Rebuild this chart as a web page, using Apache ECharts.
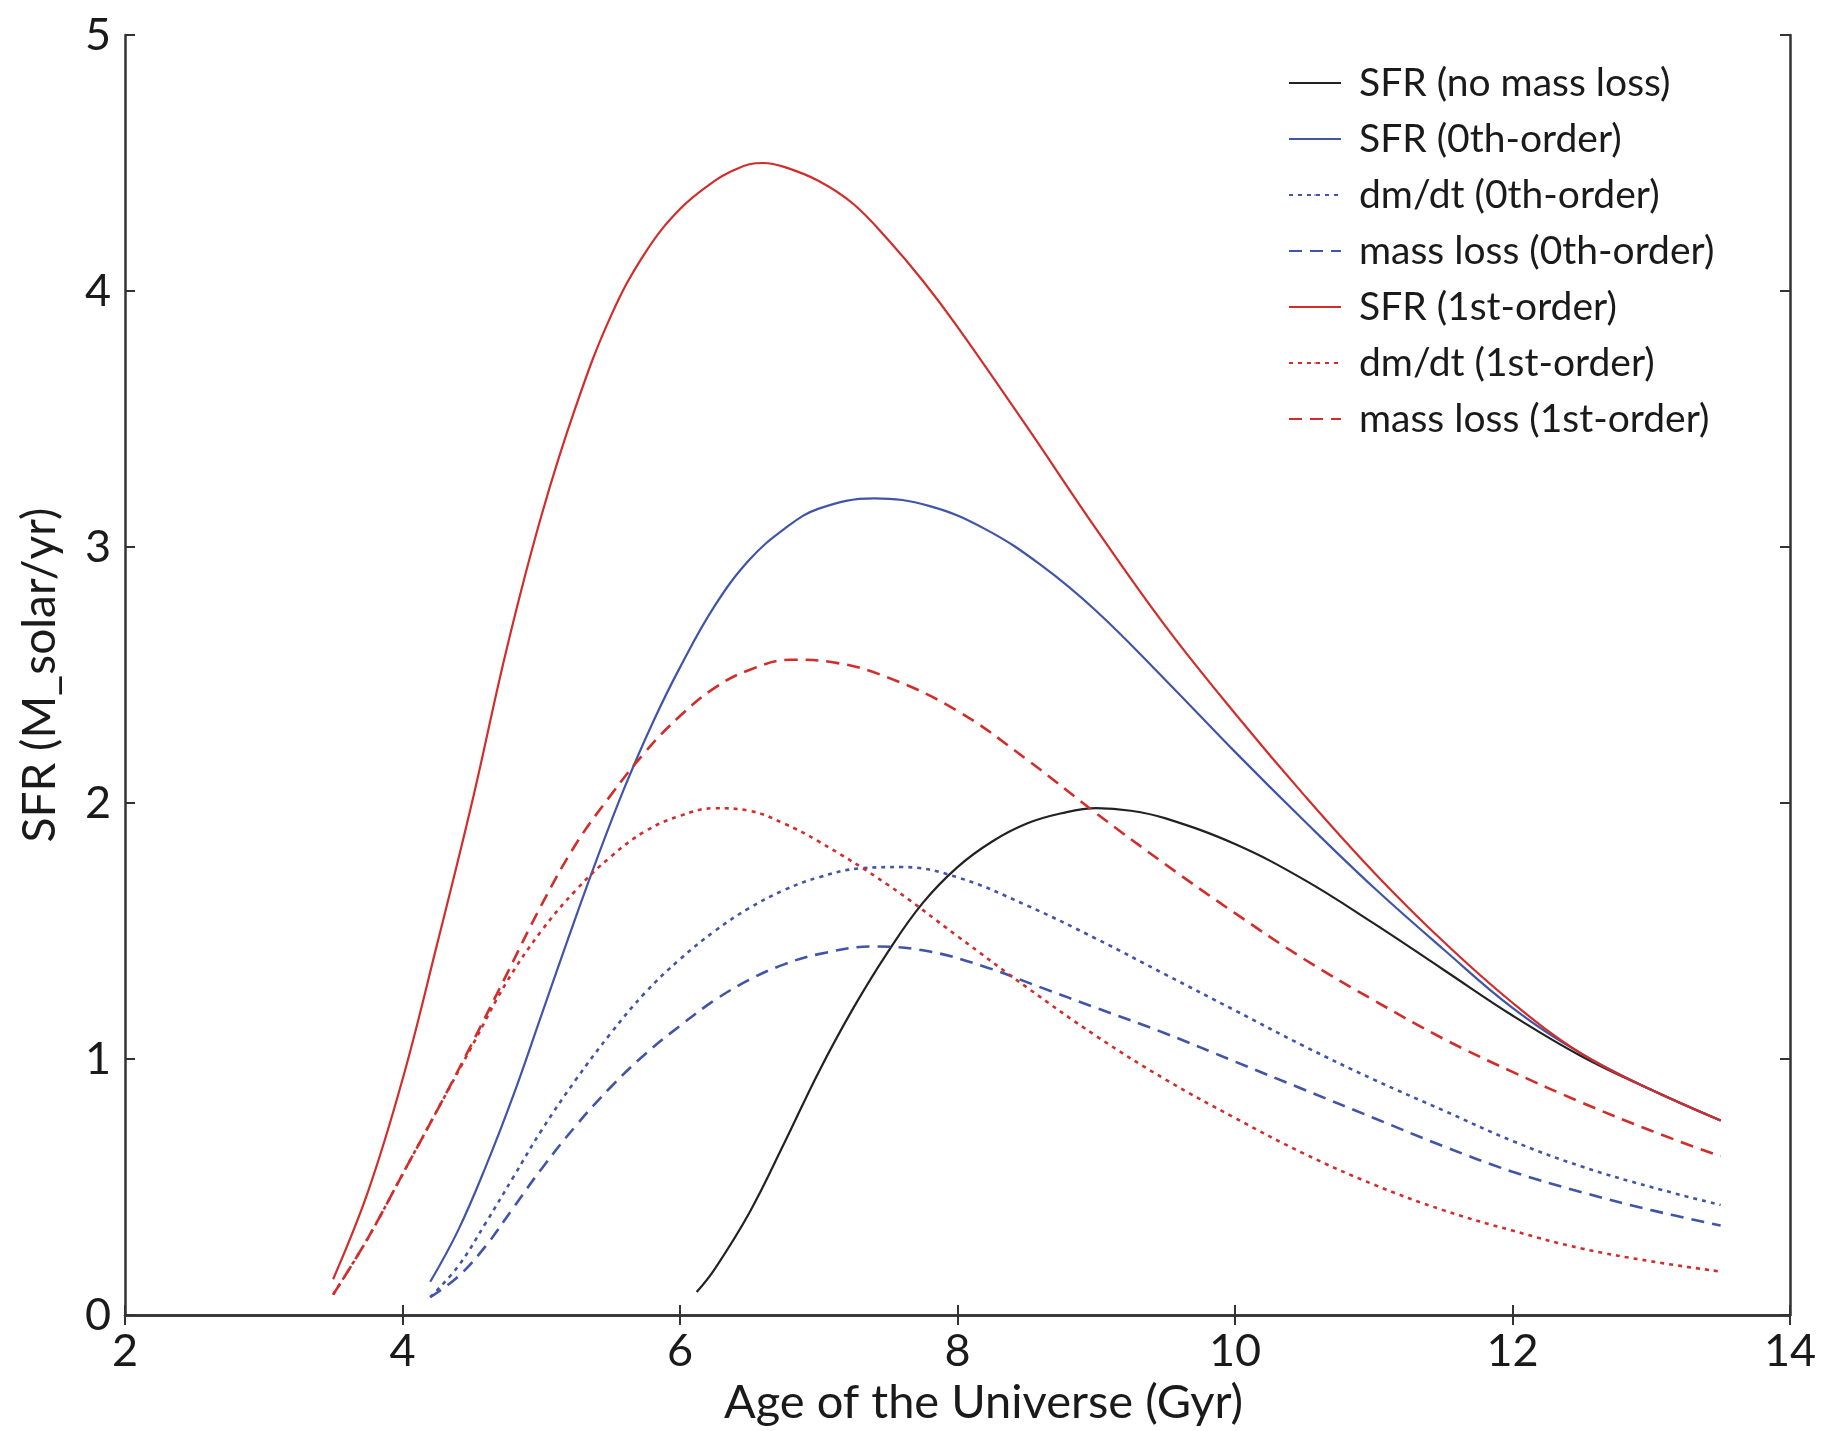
<!DOCTYPE html>
<html>
<head>
<meta charset="utf-8">
<script src="https://cdn.jsdelivr.net/npm/echarts@6/dist/echarts.min.js"></script>
<style>
html,body{margin:0;padding:0;background:#fff;}
#chart{width:1826px;height:1431px;}
</style>
</head>
<body>
<div id="chart"></div>
<script>
// ---- Data ----
const ageNoLoss = [6.12, 6.25, 6.5, 6.75, 7.0, 7.25, 7.5, 7.75, 8.0, 8.25, 8.5, 8.75, 9.0, 9.25, 9.5, 10.0, 10.5, 11.0, 11.5, 12.0, 12.5, 13.0, 13.5];
const sfrNoLoss = [0.09, 0.18, 0.40, 0.67, 0.95, 1.20, 1.42, 1.61, 1.75, 1.85, 1.92, 1.96, 1.98, 1.97, 1.94, 1.84, 1.70, 1.53, 1.35, 1.17, 1.01, 0.88, 0.76];

const age0th = [4.2, 4.4, 4.6, 4.8, 5.0, 5.2, 5.4, 5.6, 5.8, 6.0, 6.25, 6.5, 6.75, 7.0, 7.4, 7.8, 8.2, 8.6, 9.0, 9.5, 10.0, 10.5, 11.0, 11.5, 12.0, 12.5, 13.0, 13.5];
const sfr0th = [0.13, 0.33, 0.58, 0.86, 1.17, 1.48, 1.78, 2.06, 2.31, 2.53, 2.77, 2.95, 3.07, 3.15, 3.19, 3.16, 3.07, 2.93, 2.75, 2.48, 2.20, 1.93, 1.67, 1.43, 1.20, 1.02, 0.88, 0.76];

const ageDm0th = [4.2, 4.4, 4.6, 4.8, 5.0, 5.25, 5.5, 5.75, 6.0, 6.25, 6.5, 6.75, 7.0, 7.3, 7.6, 8.0, 8.5, 9.0, 9.5, 10.0, 10.5, 11.0, 11.5, 12.0, 12.5, 13.0, 13.5];
const dmdt0th  = [0.07, 0.19, 0.36, 0.54, 0.72, 0.92, 1.10, 1.26, 1.39, 1.50, 1.59, 1.66, 1.71, 1.745, 1.75, 1.71, 1.60, 1.47, 1.33, 1.19, 1.05, 0.92, 0.80, 0.68, 0.58, 0.50, 0.43];

const ageMl0th = [4.2, 4.4, 4.6, 4.8, 5.0, 5.25, 5.5, 5.75, 6.0, 6.25, 6.5, 6.75, 7.0, 7.4, 7.8, 8.2, 8.6, 9.0, 9.5, 10.0, 10.5, 11.0, 11.5, 12.0, 12.5, 13.0, 13.5];
const massLoss0th = [0.07, 0.15, 0.27, 0.42, 0.57, 0.74, 0.89, 1.02, 1.13, 1.23, 1.31, 1.37, 1.41, 1.44, 1.42, 1.36, 1.28, 1.20, 1.10, 0.99, 0.88, 0.77, 0.66, 0.56, 0.48, 0.41, 0.35];

const age1st = [3.5, 3.75, 4.0, 4.25, 4.5, 4.75, 5.0, 5.25, 5.5, 5.75, 6.0, 6.25, 6.4, 6.5, 6.6, 6.75, 7.0, 7.25, 7.5, 7.75, 8.0, 8.5, 9.0, 9.5, 10.0, 10.5, 11.0, 11.5, 12.0, 12.5, 13.0, 13.5];
const sfr1st = [0.14, 0.48, 0.92, 1.45, 2.00, 2.60, 3.12, 3.55, 3.90, 4.15, 4.32, 4.43, 4.475, 4.495, 4.50, 4.485, 4.43, 4.34, 4.20, 4.04, 3.86, 3.47, 3.07, 2.69, 2.35, 2.03, 1.73, 1.46, 1.22, 1.02, 0.88, 0.76];

const ageDm1st = [3.5, 3.75, 4.0, 4.25, 4.5, 4.75, 5.0, 5.25, 5.5, 5.75, 6.0, 6.25, 6.5, 6.75, 7.0, 7.5, 8.0, 8.5, 9.0, 9.5, 10.0, 10.5, 11.0, 11.5, 12.0, 12.5, 13.0, 13.5];
const dmdt1st  = [0.08, 0.30, 0.55, 0.80, 1.05, 1.30, 1.50, 1.66, 1.79, 1.89, 1.95, 1.98, 1.97, 1.92, 1.85, 1.68, 1.48, 1.28, 1.09, 0.92, 0.77, 0.63, 0.51, 0.41, 0.33, 0.26, 0.21, 0.17];

const ageMl1st = [3.5, 3.75, 4.0, 4.25, 4.5, 4.75, 5.0, 5.25, 5.5, 5.75, 6.0, 6.25, 6.5, 6.8, 7.1, 7.5, 8.0, 8.5, 9.0, 9.5, 10.0, 10.5, 11.0, 11.5, 12.0, 12.5, 13.0, 13.5];
const massLoss1st = [0.08, 0.30, 0.55, 0.80, 1.06, 1.33, 1.60, 1.84, 2.03, 2.20, 2.34, 2.45, 2.52, 2.56, 2.55, 2.49, 2.36, 2.17, 1.96, 1.76, 1.57, 1.39, 1.23, 1.08, 0.95, 0.83, 0.72, 0.62];

const seriesNames = ['SFR (no mass loss)', 'SFR (0th-order)', 'dm/dt (0th-order)', 'mass loss (0th-order)',
                     'SFR (1st-order)', 'dm/dt (1st-order)', 'mass loss (1st-order)'];

// ---- Styles ----
const BLACK = '#222222', BLUE = '#4055a8', RED = '#d22d2b';
const FONT = 'Lato';
const TXT = '#1a1a1a';
const zip = (xs, ys) => xs.map((x, i) => [x, ys[i]]);

function line(name, xs, ys, color, type) {
  return {
    name, type: 'line', data: zip(xs, ys), xAxisIndex: 0, yAxisIndex: 0,
    showSymbol: false, symbol: 'none', smooth: 0.4,
    lineStyle: { color, width: type === 'solid' ? 2.2 : 2.6, type },
    itemStyle: { color },
    emphasis: { disabled: true }, animation: false
  };
}

const axisCommon = {
  axisLine: { show: true, lineStyle: { color: '#333', width: 2.5 } },
  axisTick: { show: true, inside: true, length: 10, lineStyle: { color: '#333', width: 2 } },
  splitLine: { show: false }
};

const chart = echarts.init(document.getElementById('chart'), null, { renderer: 'canvas' });
chart.setOption({
  backgroundColor: '#ffffff',
  animation: false,
  grid: { left: 125, right: 36, top: 35, bottom: 106, containLabel: false },
  legend: {
    orient: 'vertical', left: 1283, top: 56,
    itemWidth: 52, itemHeight: 2, itemGap: 12,
    data: seriesNames,
    textStyle: { fontFamily: FONT, fontSize: 39, color: TXT, lineHeight: 44, padding: [0, 0, 0, 13] }
  },
  xAxis: [
    Object.assign({
      type: 'value', min: 2, max: 14, interval: 2, position: 'bottom',
      name: 'Age of the Universe (Gyr)', nameLocation: 'middle', nameGap: 62,
      nameTextStyle: { fontFamily: FONT, fontSize: 47, color: TXT, padding: [0, 0, 0, 52] },
      axisLabel: { fontFamily: FONT, fontSize: 45, color: TXT, margin: 14 }
    }, axisCommon),
    Object.assign({
      type: 'value', min: 2, max: 14, interval: 2, position: 'top',
      axisLabel: { show: false }
    }, axisCommon)
  ],
  yAxis: [
    Object.assign({
      type: 'value', min: 0, max: 5, interval: 1, position: 'left',
      name: 'SFR (M_solar/yr)', nameLocation: 'middle', nameGap: 62,
      nameTextStyle: { fontFamily: FONT, fontSize: 46, color: TXT },
      axisLabel: { fontFamily: FONT, fontSize: 45, color: TXT, margin: 14 }
    }, axisCommon),
    Object.assign({
      type: 'value', min: 0, max: 5, interval: 1, position: 'right',
      axisLabel: { show: false }
    }, axisCommon)
  ],
  series: [
    line(seriesNames[0], ageNoLoss, sfrNoLoss, BLACK, 'solid'),
    line(seriesNames[1], age0th, sfr0th, BLUE, 'solid'),
    line(seriesNames[2], ageDm0th, dmdt0th, BLUE, [4, 5]),
    line(seriesNames[3], ageMl0th, massLoss0th, BLUE, [13, 8]),
    line(seriesNames[4], age1st, sfr1st, RED, 'solid'),
    line(seriesNames[5], ageDm1st, dmdt1st, RED, [4, 5]),
    line(seriesNames[6], ageMl1st, massLoss1st, RED, [13, 8])
  ]
});
</script>
</body>
</html>
